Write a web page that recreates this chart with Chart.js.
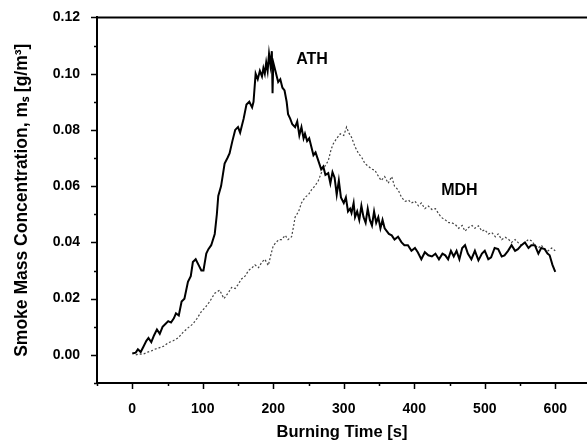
<!DOCTYPE html>
<html>
<head>
<meta charset="utf-8">
<script src="https://cdn.jsdelivr.net/npm/chart.js@4.4.0/dist/chart.umd.min.js"></script>
<style>
  html, body { margin: 0; padding: 0; background: #fff; }
  #wrap { width: 587px; height: 444px; position: relative; }
</style>
</head>
<body>
<div id="wrap"><canvas id="smokeChart"></canvas></div>
<script>
// Smoke mass concentration vs burning time
const athTime = [0, 5, 8, 12, 16, 20, 23, 27, 31, 35, 39, 43, 47, 51, 55, 59, 62, 66, 70, 74, 79, 83, 86, 90, 94, 98, 101, 105, 108, 112, 117, 120, 122, 126, 131, 135, 138, 142, 146, 150, 153, 155, 158, 162, 166, 170, 172, 175, 178, 181, 184, 186, 188, 190, 192, 194, 196, 198, 199, 200, 203, 205, 207, 210, 213, 216, 219, 221, 224, 227, 231, 234, 237, 240, 243, 245, 248, 251, 254, 257, 260, 264, 268, 271, 274, 278, 281, 284, 287, 290, 293, 296, 300, 303, 306, 309, 311, 314, 316, 319, 322, 325, 328, 331, 334, 337, 340, 343, 346, 349, 352, 355, 358, 361, 364, 368, 372, 377, 382, 386, 391, 396, 401, 405, 410, 415, 420, 425, 430, 435, 440, 444, 448, 452, 456, 460, 464, 468, 472, 476, 481, 486, 491, 496, 500, 505, 509, 514, 519, 524, 528, 533, 538, 543, 547, 552, 557, 562, 566, 571, 576, 580, 585, 589, 592, 596, 600];
const athConc = [0.0005, 0.0008, 0.002, 0.001, 0.003, 0.005, 0.006, 0.0045, 0.007, 0.009, 0.0075, 0.010, 0.011, 0.012, 0.0115, 0.013, 0.0148, 0.014, 0.019, 0.020, 0.026, 0.028, 0.033, 0.034, 0.032, 0.030, 0.030, 0.036, 0.0376, 0.039, 0.043, 0.050, 0.0565, 0.060, 0.068, 0.070, 0.0716, 0.076, 0.080, 0.081, 0.079, 0.081, 0.084, 0.089, 0.090, 0.088, 0.090, 0.100, 0.098, 0.101, 0.099, 0.102, 0.100, 0.104, 0.101, 0.107, 0.103, 0.108, 0.093, 0.104, 0.101, 0.099, 0.097, 0.098, 0.095, 0.094, 0.090, 0.0856, 0.084, 0.082, 0.081, 0.083, 0.078, 0.081, 0.077, 0.0786, 0.076, 0.077, 0.074, 0.071, 0.072, 0.069, 0.066, 0.067, 0.064, 0.0646, 0.061, 0.065, 0.063, 0.057, 0.062, 0.056, 0.054, 0.056, 0.051, 0.052, 0.0505, 0.054, 0.049, 0.051, 0.048, 0.053, 0.049, 0.047, 0.052, 0.048, 0.046, 0.051, 0.047, 0.049, 0.045, 0.048, 0.045, 0.044, 0.043, 0.0425, 0.041, 0.042, 0.040, 0.039, 0.039, 0.037, 0.038, 0.0365, 0.034, 0.0365, 0.0354, 0.035, 0.036, 0.034, 0.036, 0.0354, 0.034, 0.037, 0.035, 0.037, 0.034, 0.038, 0.039, 0.036, 0.034, 0.037, 0.0336, 0.036, 0.037, 0.034, 0.0347, 0.038, 0.0376, 0.035, 0.0354, 0.037, 0.039, 0.037, 0.0376, 0.039, 0.040, 0.038, 0.039, 0.039, 0.036, 0.038, 0.0376, 0.036, 0.0354, 0.032, 0.0295];

const mdhTime = [5, 10, 16, 22, 28, 32, 38, 44, 51, 58, 65, 72, 79, 86, 92, 98, 104, 110, 117, 124, 130, 136, 141, 146, 150, 155, 160, 165, 170, 174, 179, 184, 188, 193, 197, 200, 204, 208, 212, 217, 221, 226, 229, 231, 236, 240, 245, 250, 255, 259, 264, 268, 273, 278, 282, 285, 290, 295, 300, 304, 307, 311, 316, 321, 326, 330, 335, 340, 344, 348, 353, 358, 363, 368, 372, 377, 382, 387, 392, 396, 401, 406, 410, 415, 420, 425, 430, 435, 439, 444, 449, 453, 458, 463, 468, 472, 477, 482, 486, 491, 496, 500, 505, 510, 515, 519, 524, 529, 534, 538, 543, 547, 552, 557, 562, 566, 571, 576, 580, 585, 590, 595, 600];
const mdhConc = [0, 0.0003, 0.0003, 0.001, 0.0015, 0.002, 0.0025, 0.003, 0.0043, 0.005, 0.006, 0.008, 0.0096, 0.011, 0.013, 0.0154, 0.017, 0.019, 0.0219, 0.023, 0.020, 0.022, 0.024, 0.0236, 0.025, 0.027, 0.028, 0.030, 0.031, 0.032, 0.031, 0.033, 0.034, 0.0318, 0.036, 0.0388, 0.040, 0.041, 0.041, 0.0425, 0.041, 0.042, 0.046, 0.049, 0.051, 0.054, 0.056, 0.057, 0.059, 0.060, 0.062, 0.0646, 0.067, 0.069, 0.073, 0.075, 0.077, 0.0786, 0.078, 0.081, 0.079, 0.0774, 0.074, 0.0716, 0.070, 0.068, 0.067, 0.066, 0.0657, 0.064, 0.062, 0.0634, 0.061, 0.0634, 0.060, 0.0587, 0.056, 0.0546, 0.055, 0.054, 0.0546, 0.053, 0.054, 0.052, 0.0529, 0.0517, 0.052, 0.050, 0.0488, 0.048, 0.047, 0.047, 0.0464, 0.045, 0.046, 0.044, 0.0453, 0.046, 0.045, 0.0459, 0.044, 0.0445, 0.043, 0.0435, 0.042, 0.043, 0.041, 0.0418, 0.041, 0.040, 0.041, 0.040, 0.039, 0.040, 0.041, 0.0406, 0.039, 0.038, 0.039, 0.0376, 0.037, 0.038, 0.037];

const seriesNames = ["ATH", "MDH"];
const xTickValues = [0, 100, 200, 300, 400, 500, 600];
const yTickValues = [0, 0.02, 0.04, 0.06, 0.08, 0.10, 0.12];
// where the in-plot series names sit, in data units
const nameSpots = [[255, 0.105], [464, 0.0584]];

const toPoints = (xs, ys) => xs.map((t, i) => ({ x: t, y: ys[i] }));

// draws frame top, outward ticks (major + minor) and the series names
const frameAndLabels = {
  id: "frameAndLabels",
  afterDraw(chart) {
    const ctx = chart.ctx;
    const area = chart.chartArea;
    const xs = chart.scales.x;
    const ys = chart.scales.y;
    ctx.save();
    ctx.strokeStyle = "#000";
    ctx.lineWidth = 2;
    ctx.beginPath();
    ctx.moveTo(area.left - 1, area.top);
    ctx.lineTo(area.right, area.top);
    ctx.stroke();

    ctx.lineWidth = 1.5;
    ctx.beginPath();
    for (let i = -1; i <= 12; i++) {
      const py = Math.round(ys.getPixelForValue(i / 100)) + 0.5;
      const len = i % 2 === 0 ? 6 : 3;
      ctx.moveTo(area.left, py);
      ctx.lineTo(area.left - len, py);
    }
    for (let i = -1; i <= 12; i++) {
      const px = Math.round(xs.getPixelForValue(i * 50)) + 0.5;
      const len = i % 2 === 0 ? 6 : 3;
      ctx.moveTo(px, area.bottom);
      ctx.lineTo(px, area.bottom + len);
    }
    ctx.stroke();

    ctx.fillStyle = "#000";
    ctx.font = "bold 16px 'Liberation Sans', Arial, sans-serif";
    ctx.textAlign = "center";
    ctx.textBaseline = "middle";
    seriesNames.forEach((name, i) => {
      ctx.fillText(name, xs.getPixelForValue(nameSpots[i][0]), ys.getPixelForValue(nameSpots[i][1]));
    });
    ctx.restore();
  },
};

const ctx = document.getElementById("smokeChart").getContext("2d");
new Chart(ctx, {
  type: "line",
  data: {
    datasets: [
      {
        label: seriesNames[0],
        data: toPoints(athTime, athConc),
        borderColor: "#000",
        borderWidth: 2,
        pointRadius: 0,
        tension: 0,
        fill: false,
      },
      {
        label: seriesNames[1],
        data: toPoints(mdhTime, mdhConc),
        borderColor: "#444",
        borderWidth: 1.2,
        borderDash: [2, 2],
        pointRadius: 0,
        tension: 0,
        fill: false,
      },
    ],
  },
  options: {
    responsive: true,
    maintainAspectRatio: false,
    animation: false,
    layout: { padding: { top: 12, right: 0, bottom: 0, left: 0 } },
    plugins: {
      legend: { display: false },
      tooltip: { enabled: false },
    },
    scales: {
      x: {
        type: "linear",
        min: -50,
        max: 645,
        afterBuildTicks: (s) => { s.ticks = xTickValues.map((v) => ({ value: v })); },
        afterFit: (s) => { s.height = 61; },
        grid: { display: false },
        border: { display: true, color: "#000", width: 2 },
        ticks: {
          padding: 10,
          color: "#000",
          font: { family: "'Liberation Sans', Arial, sans-serif", size: 14, weight: "bold" },
          callback: (v) => String(v),
        },
        title: {
          display: true,
          text: "Burning Time [s]",
          color: "#000",
          font: { family: "'Liberation Sans', Arial, sans-serif", size: 16.5, weight: "bold" },
          padding: { top: 0, bottom: 2 },
        },
      },
      y: {
        min: -0.01,
        max: 0.12,
        afterBuildTicks: (s) => { s.ticks = yTickValues.map((v) => ({ value: v })); },
        afterFit: (s) => { s.width = 97; },
        grid: { display: false },
        border: { display: true, color: "#000", width: 2 },
        ticks: {
          padding: 9,
          color: "#000",
          font: { family: "'Liberation Sans', Arial, sans-serif", size: 14, weight: "bold" },
          callback: (v) => v.toFixed(2),
        },
        title: {
          display: true,
          text: "Smoke Mass Concentration, m\u209B [g/m\u00B3]",
          color: "#000",
          font: { family: "'Liberation Sans', Arial, sans-serif", size: 17.5, weight: "bold" },
          padding: { top: 12, bottom: 0 },
        },
      },
    },
  },
  plugins: [frameAndLabels],
});
</script>
</body>
</html>
